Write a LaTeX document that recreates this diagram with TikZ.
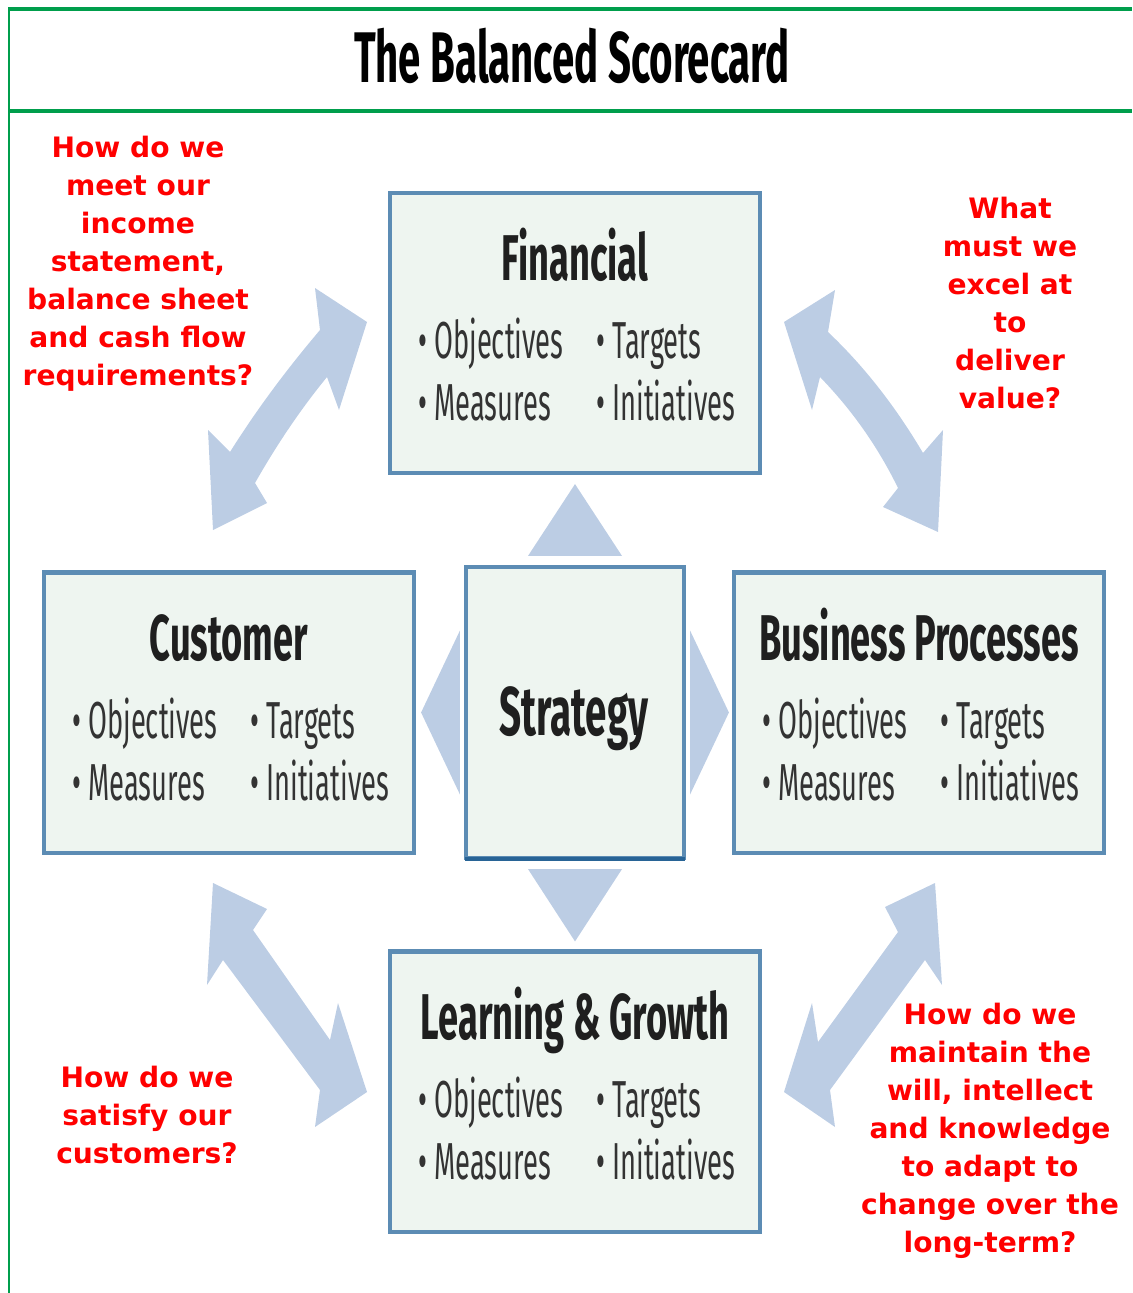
\documentclass[tikz,border=0pt]{standalone}
\usepackage{fontspec}
\usetikzlibrary{calc}

% Fonts: a condensed sans for the card, a wide bold sans for the questions
\newfontfamily\condfont[FakeStretch=0.56]{Fira Sans}
\newfontfamily\itemfont[FakeStretch=0.525]{Fira Sans}
\newfontfamily\qfont{DejaVu Sans}

\definecolor{framegreen}{RGB}{0,158,76}
\definecolor{boxfill}{RGB}{238,245,240}
\definecolor{boxline}{RGB}{92,140,180}
\definecolor{boxdark}{RGB}{40,100,150}
\definecolor{flowblue}{RGB}{188,205,228}
\definecolor{qred}{RGB}{255,0,0}

\tikzset{
  frameline/.style={draw=framegreen, line width=2.2pt},
  pbox/.style={draw=boxline, fill=boxfill, line width=2.9pt, inner sep=0pt,
               minimum width=9.25cm, minimum height=7cm},
  ptitle/.style={font=\condfont\bfseries\fontsize{46}{50}\selectfont,
                 text=black!88, inner sep=0pt, anchor=base},
  pitem/.style={font=\itemfont\fontsize{37}{40}\selectfont,
                text=black!80, inner sep=0pt, anchor=base west},
  question/.style={font=\qfont\bfseries\fontsize{20}{27}\selectfont,
                   text=qred, align=center, inner sep=0pt},
  flowarrow/.style={fill=flowblue, draw=none},
}

% Title and the four items of one perspective box
\newcommand{\perspective}[2]{%
  \node[ptitle] (#1-title) at ($(#1.north)+(0,90)$) {#2};
  \node[pitem] (#1-obj) at ($(#1.north west)+(30,168)$) {• Objectives};
  \node[pitem] (#1-tgt) at ($(#1.north west)+(208,168)$) {• Targets};
  \node[pitem] (#1-mea) at ($(#1.north west)+(30,230)$) {• Measures};
  \node[pitem] (#1-ini) at ($(#1.north west)+(208,230)$) {• Initiatives};
}

\begin{document}
\begin{tikzpicture}[x=0.025cm, y=-0.025cm]
  \useasboundingbox (0,0) rectangle (1132,1293);

  % frame and title band
  \draw[frameline] (8,9) -- (1132,9);
  \draw[frameline] (9,111) -- (1132,111);
  \draw[draw=framegreen, line width=1.4pt] (9,8) -- (9,1293);
  \node[font=\condfont\bfseries\fontsize{51}{55}\selectfont, anchor=base,
        inner sep=0pt] (title) at (572,83) {The Balanced Scorecard};

  % boxes
  \node[pbox] (fin) at (575,333) {};
  \node[pbox] (cus) at (229,712.5) {};
  \node[pbox] (bus) at (919,712.5) {};
  \node[pbox] (lrn) at (575,1091.5) {};
  \node[pbox, minimum width=5.45cm, minimum height=7.275cm] (strat) at (575,712.5) {};
  \draw[boxdark, line width=2.9pt] (strat.south west) ++(1.5,-1.5) -- ($(strat.south east)+(-1.5,-1.5)$);

  % triangles pointing from the strategy to each perspective
  \fill[flowarrow] ($(strat.north)+(-47,-9)$) -- ($(strat.north)+(47,-9)$)
                   -- ($(fin.south)+(0,9)$) -- cycle;
  \fill[flowarrow] ($(strat.south)+(-47,9)$) -- ($(strat.south)+(47,9)$)
                   -- ($(lrn.north)+(0,-8)$) -- cycle;
  \fill[flowarrow] ($(strat.west)+(-4,-82)$) -- ($(strat.west)+(-4,82)$)
                   -- ($(cus.east)+(5,0)$) -- cycle;
  \fill[flowarrow] ($(strat.east)+(4,-82)$) -- ($(strat.east)+(4,82)$)
                   -- ($(bus.west)+(-3,0)$) -- cycle;

  % box contents
  \perspective{fin}{Financial}
  \perspective{cus}{Customer}
  \perspective{bus}{Business Processes}
  \perspective{lrn}{Learning \& Growth}
  \node[ptitle, font=\condfont\bfseries\fontsize{49}{52}\selectfont]
       (strat-title) at (574,735) {Strategy};

  % two-headed arrows between neighbouring perspectives
  \fill[flowarrow] (367,322) -- (339,410) -- (327,377)
      .. controls (300,410) and (276,446) .. (255,483)
      -- (267,503) -- (213,530) -- (208,430) -- (230,452)
      .. controls (257,409) and (287,369) .. (320,330)
      -- (315,288) -- cycle;
  \fill[flowarrow] (784,322) -- (835,290) -- (828,332)
      .. controls (866,368) and (897,409) .. (923,453)
      -- (943,430) -- (938,532) -- (883,507) -- (898,488)
      .. controls (878,447) and (852,410) .. (820,377)
      -- (812,410) -- cycle;
  \fill[flowarrow] (213,883) -- (267,909) -- (253,930) -- (330,1040)
      -- (338,1003) -- (367,1092) -- (315,1127) -- (320,1090)
      -- (223,960) -- (207,985) -- cycle;
  \fill[flowarrow] (935,883) -- (942,985) -- (925,960) -- (830,1090)
      -- (835,1127) -- (784,1092) -- (812,1003) -- (818,1042)
      -- (898,932) -- (885,907) -- cycle;

  % guiding questions
  \node[question] (q-fin) at (138,264) {How do we\\meet our\\income\\statement,\\balance sheet\\and cash flow\\requirements?};
  \node[question] (q-bus) at (1010,303) {What\\must we\\excel at\\to\\deliver\\value?};
  \node[question] (q-cus) at (147,1115) {How do we\\satisfy our\\customers?};
  \node[question] (q-lrn) at (990,1131) {How do we\\maintain the\\will, intellect\\and knowledge\\to adapt to\\change over the\\long-term?};
\end{tikzpicture}
\end{document}
